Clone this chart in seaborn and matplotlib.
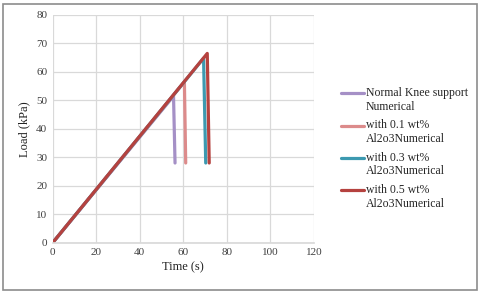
import pandas as pd
import matplotlib
matplotlib.use('Agg')
import matplotlib.pyplot as plt
import seaborn as sns
from matplotlib.patches import Rectangle
from matplotlib.legend_handler import HandlerLine2D

# Dados (tempo em s, carga em kPa)
series = ['Normal Knee support\nNumerical',
          'with 0.1 wt%\nAl2o3Numerical',
          'with 0.3 wt%\nAl2o3Numerical',
          'with 0.5 wt%\nAl2o3Numerical']
time_normal = [0, 55.5, 56.2]
load_normal = [0, 51.5, 28]
time_01 = [0, 60.5, 61.1]
load_01 = [0, 56.5, 28]
time_03 = [0, 69.3, 70.3]
load_03 = [0, 64.8, 28]
time_05 = [0, 71.0, 71.9]
load_05 = [0, 66.5, 28]
colors = ['#a590c6', '#dc8b8b', '#3c99b0', '#b5423f']

frames = []
for name, t, l in zip(series,
                      [time_normal, time_01, time_03, time_05],
                      [load_normal, load_01, load_03, load_05]):
    frames.append(pd.DataFrame({'Time': t, 'Load': l, 'Serie': name}))
df = pd.concat(frames, ignore_index=True)


# linha da legenda alinhada com a primeira linha do texto
class HandlerTop(HandlerLine2D):
    def create_artists(self, legend, orig_handle, xdescent, ydescent,
                       width, height, fontsize, trans):
        arts = super().create_artists(legend, orig_handle, xdescent, ydescent,
                                      width, height, fontsize, trans)
        for a in arts:
            a.set_ydata([y + 0.6 * fontsize for y in a.get_ydata()])
        return arts


sns.set_theme(style='white')
plt.rcParams['font.family'] = ['Liberation Serif', 'DejaVu Serif']

fig = plt.figure(figsize=(4.8, 2.94), dpi=100)
ax = fig.add_axes([0.1098, 0.1745, 0.5442, 0.7745])

sns.lineplot(data=df, x='Time', y='Load', hue='Serie', hue_order=series,
             palette=colors, estimator=None, sort=False, linewidth=2.3,
             ax=ax)

ax.set_xlim(0, 120)
ax.set_ylim(0, 80)
ax.set_xticks(range(0, 121, 20))
ax.set_yticks(range(0, 81, 10))
ax.grid(True, color='#d9d9d9', linewidth=0.9)
ax.set_axisbelow(True)
for s in ['top', 'right', 'left']:
    ax.spines[s].set_visible(False)
ax.spines['bottom'].set_color('#d9d9d9')
ax.tick_params(labelsize=8, colors='#404040', length=0, pad=4)
ax.set_xlabel('Time (s)', fontsize=9, color='#222222', labelpad=3)
ax.set_ylabel('Load (kPa)', fontsize=9, color='#222222', labelpad=4)

handles, labels = ax.get_legend_handles_labels()
ax.legend(handles, labels, loc='upper left', bbox_to_anchor=(0.70, 0.72),
          bbox_transform=fig.transFigure, frameon=False, fontsize=8.5,
          handlelength=2.0, handletextpad=0.1, labelspacing=0.55,
          borderaxespad=0, handler_map={matplotlib.lines.Line2D: HandlerTop()})

# borda externa do gráfico
fig.patches.append(Rectangle((0.006, 0.012), 0.988, 0.976, transform=fig.transFigure,
                             fill=False, edgecolor='#8c8c8c', linewidth=1.2))

fig.savefig('out.png', dpi=100)
